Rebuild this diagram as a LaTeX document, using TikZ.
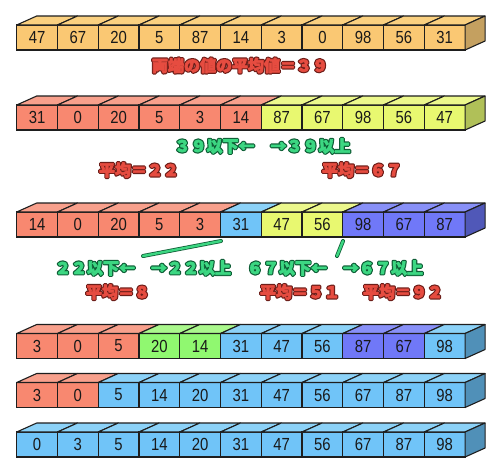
\documentclass[tikz,border=0pt]{standalone}
\usepackage{fontspec}
\newfontfamily\jp{Noto Sans CJK JP}
\newfontfamily\numf{Liberation Sans}[FakeStretch=0.85]
\definecolor{edge}{RGB}{30,30,30}
\definecolor{orF}{RGB}{250,200,115}
\definecolor{orT}{RGB}{250,208,128}
\definecolor{orS}{RGB}{196,160,96}
\definecolor{reF}{RGB}{248,136,112}
\definecolor{reT}{RGB}{248,160,140}
\definecolor{yeF}{RGB}{232,248,112}
\definecolor{yeT}{RGB}{236,248,140}
\definecolor{yeS}{RGB}{176,192,88}
\definecolor{blF}{RGB}{112,196,248}
\definecolor{blT}{RGB}{140,210,248}
\definecolor{blS}{RGB}{80,144,184}
\definecolor{puF}{RGB}{112,120,248}
\definecolor{puT}{RGB}{136,144,248}
\definecolor{puS}{RGB}{80,88,184}
\definecolor{grF}{RGB}{144,248,112}
\definecolor{grT}{RGB}{170,248,140}
\definecolor{labR}{RGB}{230,76,64}
\definecolor{labRe}{RGB}{110,30,25}
\definecolor{labG}{RGB}{60,215,130}
\definecolor{labGe}{RGB}{15,95,55}
% outlined label: a stroked dark copy under a slightly emboldened filled copy
\newcommand\hl[3]{\leavevmode
 \rlap{\color{#2}\special{pdf:literal direct 2 Tr 3.0 w 1 j}#3\special{pdf:literal direct 0 Tr}}%
 {\color{#1}\special{pdf:literal direct 2 Tr 0.6 w 1 j}#3\special{pdf:literal direct 0 Tr}}}
\tikzset{
 cell/.style={draw=edge, line width=1.1pt, minimum width=40.76pt, minimum height=25pt,
   inner sep=0pt, outer sep=0pt, anchor=north west,
   font=\numf\fontsize{17.5}{17.5}\selectfont, text=black!90},
 face/.style={draw=edge, line width=1.1pt, line join=round},
 lbl/.style={inner sep=0pt, font=\jp\bfseries\fontsize{16}{16}\selectfont},
 split/.style={line width=2.4pt, draw=labG, line cap=round,
   preaction={draw=labGe, line width=4pt, line cap=round}}
}
\newcommand\cellrow[4]{%
 \foreach \vv/\cc [count=\i from 0] in {#3} {
   \node[cell, fill=\cc F] (r#1c\i) at ({16.7+40.76*\i}, #2) {\vv};
   \filldraw[face, fill=\cc T] (r#1c\i.north west) -- ++(20,-9) -- ++(40.76,0)
     -- (r#1c\i.north east) -- cycle;
 }
 \filldraw[face, fill=#4] (r#1c10.north east) -- ++(20,-9) -- ++(0,25)
   -- (r#1c10.south east) -- cycle;
}
\begin{document}
\begin{tikzpicture}[x=1pt, y=-1pt]
\useasboundingbox[fill=white] (0,0) rectangle (500,475);
\cellrow{1}{25}{47/or,67/or,20/or,5/or,87/or,14/or,3/or,0/or,98/or,56/or,31/or}{orS}
\cellrow{2}{105}{31/re,0/re,20/re,5/re,3/re,14/re,87/ye,67/ye,98/ye,56/ye,47/ye}{yeS}
\cellrow{3}{212}{14/re,0/re,20/re,5/re,3/re,31/bl,47/ye,56/ye,98/pu,67/pu,87/pu}{puS}
\cellrow{4}{333.5}{3/re,0/re,5/re,20/gr,14/gr,31/bl,47/bl,56/bl,87/pu,67/pu,98/bl}{blS}
\cellrow{5}{382.5}{3/re,0/re,5/bl,14/bl,20/bl,31/bl,47/bl,56/bl,67/bl,87/bl,98/bl}{blS}
\cellrow{6}{432}{0/bl,3/bl,5/bl,14/bl,20/bl,31/bl,47/bl,56/bl,67/bl,87/bl,98/bl}{blS}

\node[lbl] (avg) at (240,65.5) {\hl{labR}{labRe}{両端の値の平均値＝３９}};
\node[lbl] (sp1) at (262.5,146) {\hl{labG}{labGe}{３９以下←　→３９以上}};
\node[lbl] (m1) at (139,170) {\hl{labR}{labRe}{平均＝２２}};
\node[lbl] (m2) at (362,170) {\hl{labR}{labRe}{平均＝６７}};
\node[lbl] (sp2) at (143,268) {\hl{labG}{labGe}{２２以下←　→２２以上}};
\node[lbl] (sp3) at (335,268) {\hl{labG}{labGe}{６７以下←　→６７以上}};
\node[lbl] (m3) at (118,292) {\hl{labR}{labRe}{平均＝８}};
\node[lbl] (m4) at (300,292) {\hl{labR}{labRe}{平均＝５１}};
\node[lbl] (m5) at (403,292) {\hl{labR}{labRe}{平均＝９２}};

\coordinate (c1a) at (221,241);
\coordinate (c1b) at (143,256);
\coordinate (c2a) at (343,241);
\coordinate (c2b) at (337,256);
\draw[split] (c1a) -- (c1b);
\draw[split] (c2a) -- (c2b);
\end{tikzpicture}
\end{document}
